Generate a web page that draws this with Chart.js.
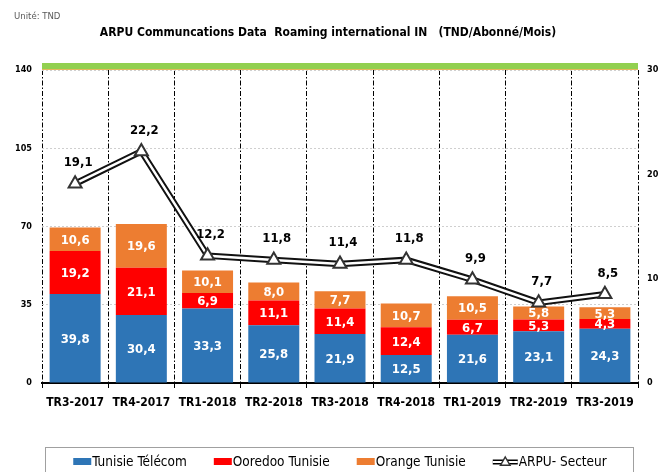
<!DOCTYPE html>
<html>
<head>
<meta charset="utf-8">
<script src="https://cdn.jsdelivr.net/npm/chart.js@4.4.1/dist/chart.umd.min.js"></script>
<style>
html,body{margin:0;padding:0;background:#fff;}
#wrap{width:659px;height:472px;position:relative;}
</style>
</head>
<body>
<div id="wrap"><canvas id="c" width="659" height="472"></canvas></div>
<script>
const categories = ['TR3-2017','TR4-2017','TR1-2018','TR2-2018','TR3-2018','TR4-2018','TR1-2019','TR2-2019','TR3-2019'];
const tunisieTelecom = [39.8,30.4,33.3,25.8,21.9,12.5,21.6,23.1,24.3];
const ooredooTunisie = [19.2,21.1,6.9,11.1,11.4,12.4,6.7,5.3,4.3];
const orangeTunisie = [10.6,19.6,10.1,8.0,7.7,10.7,10.5,5.8,5.3];
const arpuSecteur = [19.1,22.2,12.2,11.8,11.4,11.8,9.9,7.7,8.5];
const leftAxis = {min:0, max:140, step:35};
const rightAxis = {min:0, max:30, step:10};
const titleText = 'ARPU Communcations Data  Roaming international IN   (TND/Abonné/Mois)';
const unitText = 'Unité: TND';

const FONT = "'DejaVu Sans Condensed', 'DejaVu Sans', sans-serif";
Chart.defaults.font.family = FONT;
Chart.defaults.color = '#000';

const fmt = v => v.toFixed(1).replace('.', ',');

const legendItems = [
  {label:'Tunisie Télécom', color:'#2E75B6', kind:'box'},
  {label:'Ooredoo Tunisie', color:'#FF0000', kind:'box'},
  {label:'Orange Tunisie', color:'#ED7D31', kind:'box'},
  {label:'ARPU- Secteur', color:'#000', kind:'line'}
];

function triangle(ctx, x, y, r){
  ctx.beginPath();
  ctx.moveTo(x, y - r);
  ctx.lineTo(x + r*0.95, y + r*0.65);
  ctx.lineTo(x - r*0.95, y + r*0.65);
  ctx.closePath();
}

const decor = {
  id:'decor',
  beforeDatasetsDraw(chart){
    const {ctx, chartArea:a} = chart;
    ctx.save();
    ctx.fillStyle = '#92D050';
    ctx.fillRect(a.left, a.top - 7, a.right - a.left, 7);
    ctx.strokeStyle = '#E6B85C';
    ctx.lineWidth = 1;
    ctx.beginPath();
    ctx.moveTo(a.left, a.top - 0.5);
    ctx.lineTo(a.right, a.top - 0.5);
    ctx.stroke();
    ctx.restore();
  },
  afterDatasetsDraw(chart){
    const {ctx} = chart;
    ctx.save();
    ctx.textAlign = 'center';
    ctx.textBaseline = 'middle';
    [0,1,2].forEach(di => {
      const meta = chart.getDatasetMeta(di);
      const data = chart.data.datasets[di].data;
      meta.data.forEach((el, i) => {
        const p = el.getProps(['x','y','base'], true);
        ctx.font = 'bold 13px ' + FONT;
        ctx.fillStyle = '#fff';
        ctx.fillText(fmt(data[i]), p.x, (p.y + p.base)/2 + 1);
      });
    });
    const lm = chart.getDatasetMeta(4);
    const ld = chart.data.datasets[4].data;
    lm.data.forEach((el, i) => {
      const p = el.getProps(['x','y'], true);
      ctx.font = 'bold 13px ' + FONT;
      ctx.fillStyle = '#000';
      ctx.fillText(fmt(ld[i]), p.x + 3, p.y - 21);
    });
    ctx.restore();
  },
  afterDraw(chart){
    const {ctx, chartArea:a} = chart;
    ctx.save();
    ctx.font = '9.5px ' + FONT;
    ctx.fillStyle = '#595959';
    ctx.textAlign = 'left';
    ctx.textBaseline = 'middle';
    ctx.fillText(unitText, 14, 17);
    ctx.font = 'bold 12px ' + FONT;
    ctx.fillStyle = '#000';
    ctx.textAlign = 'center';
    ctx.fillText(titleText, 328, 33);
    const ly = 462;
    ctx.strokeStyle = '#a0a0a0';
    ctx.lineWidth = 1;
    ctx.strokeRect(45.5, 447.5, 588, 30);
    ctx.font = '13.5px ' + FONT;
    const boxW = 18, gap = 27, tg = 1;
    const widths = legendItems.map(it => (it.kind === 'box' ? boxW : 25) + tg + ctx.measureText(it.label).width);
    const total = widths.reduce((s,w)=>s+w,0) + gap*(legendItems.length-1);
    let x = (a.left + a.right)/2 - total/2;
    legendItems.forEach((it) => {
      if (it.kind === 'box'){
        ctx.fillStyle = it.color;
        ctx.fillRect(x, ly - 4, boxW, 7);
        x += boxW + tg;
      } else {
        ctx.strokeStyle = '#000'; ctx.lineWidth = 5;
        ctx.beginPath(); ctx.moveTo(x, ly); ctx.lineTo(x+25, ly); ctx.stroke();
        ctx.strokeStyle = '#fff'; ctx.lineWidth = 2;
        ctx.beginPath(); ctx.moveTo(x, ly); ctx.lineTo(x+25, ly); ctx.stroke();
        triangle(ctx, x+12.5, ly, 5);
        ctx.fillStyle = '#fff'; ctx.fill();
        ctx.strokeStyle = '#333'; ctx.lineWidth = 1.5; ctx.stroke();
        x += 25 + tg;
      }
      ctx.fillStyle = '#000';
      ctx.textAlign = 'left';
      ctx.textBaseline = 'middle';
      ctx.fillText(it.label, x, ly);
      x += ctx.measureText(it.label).width + gap;
    });
    ctx.restore();
  }
};

const barCommon = {stack:'s', barPercentage:0.77, categoryPercentage:1, order:10, borderWidth:0};

new Chart(document.getElementById('c'), {
  type:'bar',
  data:{
    labels:categories,
    datasets:[
      {...barCommon, label:'Tunisie Télécom', data:tunisieTelecom, backgroundColor:'#2E75B6'},
      {...barCommon, label:'Ooredoo Tunisie', data:ooredooTunisie, backgroundColor:'#FF0000'},
      {...barCommon, label:'Orange Tunisie', data:orangeTunisie, backgroundColor:'#ED7D31'},
      {type:'line', label:'ARPU- Secteur', data:arpuSecteur, yAxisID:'y2', borderColor:'#111', borderWidth:6.5,
        pointRadius:0, tension:0, order:2, fill:false},
      {type:'line', label:'ARPU- Secteur (inner)', data:arpuSecteur, yAxisID:'y2', borderColor:'#fff', borderWidth:2.5,
        pointStyle:'triangle', pointRadius:7.5, pointBackgroundColor:'#fff', pointBorderColor:'#333', pointBorderWidth:2,
        tension:0, order:1, fill:false}
    ]
  },
  options:{
    responsive:false,
    animation:false,
    layout:{padding:{top:70, bottom:39, left:0, right:0}},
    plugins:{legend:{display:false}, tooltip:{enabled:false}, title:{display:false}},
    scales:{
      x:{
        stacked:true,
        offset:true,
        afterFit(s){ s.height = 50; },
        grid:{offset:true, color:'#000', lineWidth:1, drawTicks:true, tickLength:5,
          tickColor:'#000', tickWidth:1, tickBorderDash:[]},
        border:{display:true, color:'#000', width:2, dash:[5,2,1.5,2]},
        ticks:{font:{size:12, weight:'bold'}, color:'#000', padding:8, maxRotation:0, autoSkip:false}
      },
      y:{
        stacked:true,
        position:'left',
        min:leftAxis.min, max:leftAxis.max,
        afterFit(s){ s.width = 42; },
        grid:{color:'#cfcfcf', drawTicks:false},
        border:{display:false, dash:[2,2]},
        ticks:{stepSize:leftAxis.step, font:{size:9, weight:'bold'}, color:'#000', padding:10}
      },
      y2:{
        position:'right',
        min:rightAxis.min, max:rightAxis.max,
        afterFit(s){ s.width = 21; },
        grid:{display:false, drawTicks:false},
        border:{display:false},
        ticks:{stepSize:rightAxis.step, font:{size:9, weight:'bold'}, color:'#000', padding:9}
      }
    }
  },
  plugins:[decor]
});
</script>
</body>
</html>
